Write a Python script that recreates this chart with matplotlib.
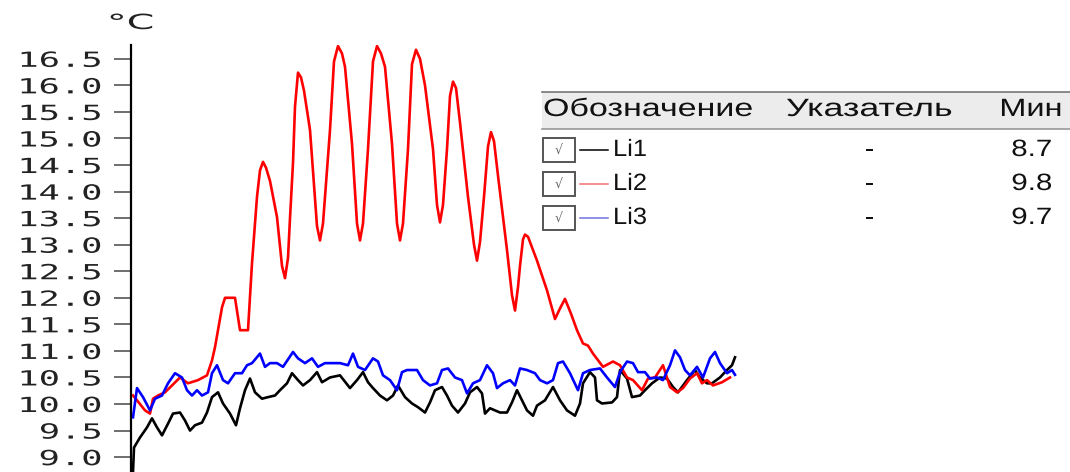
import matplotlib
matplotlib.use("Agg")
import matplotlib.pyplot as plt
from matplotlib import patheffects
from matplotlib.transforms import Affine2D
from matplotlib.patches import Rectangle
from matplotlib.lines import Line2D

# time samples (s) and temperatures (°C)
t_li1 = [0, 1, 7, 14, 19, 24, 29, 35, 40, 47, 52, 57, 62, 69, 74, 79, 85, 90, 97, 103,
         107, 112, 117, 122, 129, 135, 142, 147, 154, 159, 165, 170, 177, 184, 189, 197, 207, 217, 224, 230,
         235, 240, 247, 254, 260, 265, 272, 279, 285, 292, 297, 302, 309, 314, 319, 325, 332, 337, 344, 349,
         352, 357, 362, 367, 374, 379, 384, 389, 394, 400, 404, 412, 420, 427, 434, 442, 447, 450, 457, 462,
         464, 469, 479, 484, 487, 494, 499, 507, 512, 519, 527, 534, 540, 545, 554, 562, 567, 574, 579, 587,
         594, 599, 602]
li1 = [8.72, 9.18, 9.37, 9.56, 9.73, 9.56, 9.41, 9.63, 9.82, 9.84, 9.69, 9.50, 9.60, 9.65, 9.84, 10.13, 10.22, 10.01, 9.82, 9.60,
       9.92, 10.26, 10.48, 10.22, 10.10, 10.13, 10.16, 10.26, 10.39, 10.58, 10.45, 10.35, 10.45, 10.60, 10.41, 10.50, 10.54, 10.30, 10.45, 10.60,
       10.41, 10.30, 10.16, 10.07, 10.16, 10.35, 10.13, 10.01, 9.94, 9.84, 10.03, 10.26, 10.32, 10.16, 9.97, 9.84, 10.01, 10.22, 10.32, 10.20,
       9.82, 9.92, 9.88, 9.84, 9.84, 10.03, 10.26, 10.07, 9.88, 9.78, 9.97, 10.07, 10.32, 10.07, 9.88, 9.78, 10.01, 10.39, 10.60, 10.50,
       10.07, 10.01, 10.03, 10.13, 10.64, 10.48, 10.13, 10.16, 10.26, 10.39, 10.50, 10.48, 10.32, 10.22, 10.45, 10.64, 10.50, 10.39, 10.39, 10.50,
       10.64, 10.73, 10.88]

t_li2 = [0, 4, 12, 17, 20, 25, 32, 39, 47, 55, 65, 74, 79, 82, 85, 89, 92, 102, 107, 115,
         119, 124, 127, 130, 133, 137, 144, 149, 152, 155, 157, 160, 162, 165, 168, 171, 177, 184, 187, 190,
         192, 197, 201, 205, 209, 212, 219, 224, 227, 230, 235, 240, 244, 248, 252, 259, 264, 267, 270, 275,
         279, 283, 287, 292, 300, 304, 307, 310, 314, 317, 320, 323, 327, 335, 341, 344, 347, 351, 355, 358,
         361, 365, 374, 379, 382, 385, 387, 390, 392, 395, 398, 404, 414, 422, 427, 432, 438, 444, 450, 455,
         460, 470, 480, 487, 494, 500, 509, 515, 522, 530, 537, 544, 550, 557, 564, 569, 574, 580, 589, 597]
li2 = [10.16, 10.07, 9.88, 9.82, 10.10, 10.16, 10.22, 10.35, 10.50, 10.39, 10.45, 10.54, 10.82, 11.07, 11.39, 11.82, 12.00, 12.00, 11.39, 11.39,
       12.65, 13.90, 14.40, 14.56, 14.45, 14.20, 13.52, 12.60, 12.37, 12.75, 13.50, 14.54, 15.60, 16.24, 16.15, 15.90, 15.16, 13.35, 13.08, 13.40,
       13.90, 15.16, 16.45, 16.74, 16.60, 16.35, 14.90, 13.40, 13.08, 13.40, 14.80, 16.45, 16.74, 16.60, 16.35, 14.90, 13.40, 13.08, 13.40, 14.80,
       16.40, 16.67, 16.50, 16.00, 14.80, 13.75, 13.42, 13.75, 14.80, 15.80, 16.07, 15.95, 15.30, 13.90, 13.00, 12.70, 13.05, 13.90, 14.85, 15.12,
       14.95, 14.30, 12.90, 12.05, 11.76, 12.20, 12.60, 13.10, 13.19, 13.15, 13.00, 12.70, 12.14, 11.60, 11.80, 11.98, 11.70, 11.39, 11.14, 11.10,
       10.95, 10.70, 10.80, 10.73, 10.50, 10.45, 10.26, 10.48, 10.50, 10.73, 10.32, 10.22, 10.30, 10.48, 10.58, 10.39, 10.45, 10.35, 10.41, 10.50]

t_li3 = [0, 4, 10, 17, 22, 29, 35, 42, 49, 54, 59, 64, 69, 75, 79, 84, 90, 95, 102, 109,
         114, 119, 127, 132, 137, 144, 150, 160, 165, 172, 179, 185, 192, 199, 207, 215, 220, 225, 232, 240,
         245, 250, 257, 264, 269, 274, 284, 290, 297, 304, 309, 315, 322, 329, 334, 340, 347, 354, 360, 364,
         370, 377, 382, 387, 394, 402, 407, 414, 420, 425, 430, 437, 445, 450, 457, 467, 474, 482, 487, 494,
         500, 505, 512, 517, 524, 530, 537, 542, 547, 552, 557, 564, 570, 577, 582, 587, 594, 599, 602]
li3 = [9.75, 10.30, 10.13, 9.88, 10.10, 10.16, 10.39, 10.58, 10.50, 10.26, 10.16, 10.26, 10.16, 10.22, 10.58, 10.73, 10.45, 10.39, 10.58, 10.58,
       10.73, 10.77, 10.95, 10.70, 10.77, 10.77, 10.70, 10.98, 10.86, 10.77, 10.86, 10.70, 10.77, 10.77, 10.77, 10.73, 10.95, 10.70, 10.64, 10.86,
       10.80, 10.54, 10.45, 10.26, 10.60, 10.64, 10.64, 10.45, 10.35, 10.39, 10.64, 10.67, 10.50, 10.45, 10.20, 10.39, 10.45, 10.73, 10.58, 10.30,
       10.39, 10.45, 10.35, 10.67, 10.64, 10.58, 10.45, 10.39, 10.45, 10.77, 10.80, 10.58, 10.26, 10.58, 10.64, 10.67, 10.50, 10.32, 10.60, 10.80,
       10.77, 10.60, 10.60, 10.48, 10.50, 10.45, 10.73, 11.01, 10.88, 10.64, 10.54, 10.70, 10.50, 10.86, 10.98, 10.77, 10.58, 10.64, 10.55]

names = ["Li1", "Li2", "Li3"]
colors = ["black", "#ff0000", "#0000ff"]
key_colors = ["black", "#f07070", "#7070e0"]
mins = ["8.7", "9.8", "9.7"]
headers = ["Обозначение", "Указатель", "Мин"]
yticks = [9.0, 9.5, 10.0, 10.5, 11.0, 11.5, 12.0, 12.5, 13.0, 13.5, 14.0, 14.5, 15.0, 15.5, 16.0, 16.5]

W, H = 1070, 472


class Stretch(patheffects.AbstractPathEffect):
    # the screenshot is squeezed: widen glyphs horizontally
    def __init__(self, sx, anchor="left"):
        super().__init__()
        self.sx = sx
        self.anchor = anchor

    def draw_path(self, renderer, gc, tpath, affine, rgbFace=None):
        ext = tpath.get_extents()
        x0 = {"left": 0.0, "right": ext.x1, "center": (ext.x0 + ext.x1) / 2}[self.anchor]
        tr = Affine2D().translate(-x0, 0).scale(self.sx, 1).translate(x0, 0) + affine
        renderer.draw_path(gc, tpath, tr, rgbFace)


def fx(px):
    return px / W


def fy(py):
    return 1 - py / H


fig = plt.figure(figsize=(W / 100, H / 100), dpi=100)
ax = fig.add_axes([fx(131), 0, fx(740) - fx(131), fy(45)])

for t, v, c in zip([t_li1, t_li2, t_li3], [li1, li2, li3], colors):
    ax.plot(t, v, color=c, lw=1.9)

ax.set_xlim(-2, 607)
ax.set_ylim(8.72, 16.76)
for s in ["top", "right", "bottom"]:
    ax.spines[s].set_visible(False)
ax.spines["left"].set_linewidth(1.6)
ax.set_xticks([])
ax.set_yticks(yticks)
ax.set_yticklabels([f"{v:.1f}" for v in yticks], family="DejaVu Sans Mono", fontsize=15,
                   color="#222222", path_effects=[Stretch(1.7, "right")])
ax.tick_params(axis="y", length=12, width=1.2, color="#555555", pad=9)

fig.text(fx(131), fy(23), "°C", ha="center", va="center", family="DejaVu Sans",
         fontsize=15, color="#222222", path_effects=[Stretch(1.9, "center")])

# legend table
fig.add_artist(Rectangle((fx(542), fy(129)), 1 - fx(542), fy(92) - fy(129),
                         transform=fig.transFigure, facecolor="#ececec", edgecolor="none"))
fig.add_artist(Line2D([fx(542), 1], [fy(92), fy(92)], color="#777777", lw=1.2))
fig.add_artist(Line2D([fx(542), 1], [fy(129), fy(129)], color="#999999", lw=1.2))

tfont = dict(family="Liberation Sans", fontsize=17, color="#111111", va="center")
hfont = dict(tfont, fontsize=18)
fig.text(fx(543), fy(109), headers[0], ha="left", path_effects=[Stretch(1.36, "left")], **hfont)
fig.text(fx(786), fy(109), headers[1], ha="left", path_effects=[Stretch(1.43, "left")], **hfont)
fig.text(fx(1062), fy(109), headers[2], ha="right", path_effects=[Stretch(1.3, "right")], **hfont)

for i, name in enumerate(names):
    yc = 150 + 34 * i
    fig.add_artist(Rectangle((fx(543), fy(yc + 12)), fx(32), fy(0) - fy(24),
                             transform=fig.transFigure, facecolor="white", edgecolor="#555555", lw=1.4))
    fig.text(fx(559), fy(yc), "√", ha="center", va="center", fontsize=9, color="#666666",
             family="DejaVu Sans")
    fig.add_artist(Line2D([fx(580), fx(608)], [fy(yc), fy(yc)], color=key_colors[i], lw=1.1))
    fig.text(fx(613), fy(yc), name, ha="left", path_effects=[Stretch(1.08, "left")], **tfont)
    fig.text(fx(869), fy(yc), "-", ha="center", path_effects=[Stretch(1.2, "center")], **tfont)
    fig.text(fx(1052), fy(yc), mins[i], ha="right", path_effects=[Stretch(1.25, "right")], **tfont)

fig.savefig("out.png", dpi=100)
